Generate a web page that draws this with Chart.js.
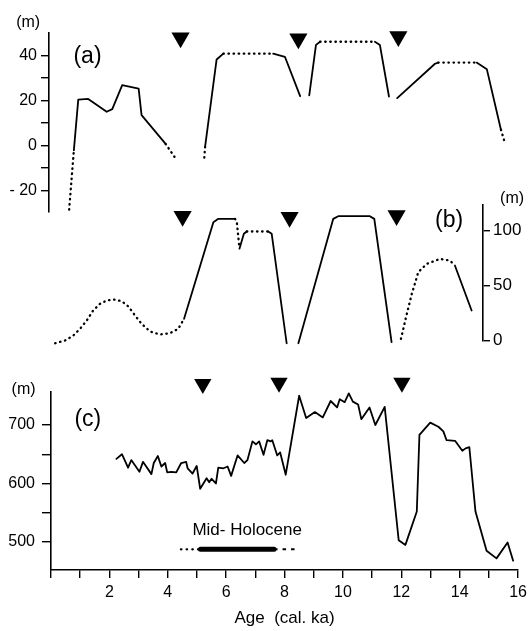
<!DOCTYPE html>
<html>
<head>
<meta charset="utf-8">
<script src="https://cdn.jsdelivr.net/npm/chart.js@4.4.1/dist/chart.umd.min.js"></script>
<style>
  html, body { margin: 0; padding: 0; background: #fff; }
  #wrap { position: relative; width: 532px; height: 631px; }
  #wrap canvas { position: absolute; left: 0; }
</style>
</head>
<body>
<div id="wrap">
  <canvas id="chartA" width="532" height="225" style="top:0px"></canvas>
  <canvas id="chartB" width="532" height="170" style="top:190px"></canvas>
  <canvas id="chartC" width="532" height="256" style="top:375px"></canvas>
</div>
<script>
// (a) level in m, null = gap; aDots = 1 where the segment from that point is dotted
const aAge   = [0.62, 0.78, 0.93, 1.27, 1.90, 2.09, 2.43, 2.99, 3.09, 3.91, 4.25, 4.7,
                5.23, 5.26, 5.65, 5.88, 7.58, 7.98, 8.50, 8.65,
                8.81, 9.04, 9.18, 11.05, 11.22, 11.53, 11.67,
                11.81, 13.10, 13.21, 14.52, 14.87, 15.35, 15.46];
const aLevel = [-28.6, -2.2, 20.4, 20.7, 15.0, 16.2, 26.9, 25.3, 13.5, 0.7, -5.8, null,
                -5.4, -0.3, 38.3, 40.9, 40.9, 39.5, 22.0, null,
                22.3, 44.8, 46.2, 46.2, 44.8, 21.8, null,
                21.1, 36.4, 36.9, 36.9, 33.9, 7.0, 2.2];
const aDots  = [1, 0, 0, 0, 0, 0, 0, 0, 0, 1, 0, 0,
                1, 0, 0, 1, 0, 0, 0, 0,
                0, 0, 1, 0, 0, 0, 0,
                0, 0, 1, 0, 0, 1, 0];
const aMarkAge   = [4.42, 8.44, 11.85];
const aMarkLevel = [48, 47.5, 48.5];

// (b)
const bAge   = [0.14, 0.48, 0.76, 0.99, 1.22, 1.44, 1.67, 1.90, 2.13, 2.41, 2.64, 2.87, 3.09, 3.38,
                3.72, 4.06, 4.34, 4.54, 5.54, 5.71, 6.28, 6.34, 6.43, 6.58, 6.68, 7.41, 7.53, 8.04, 8.24,
                8.44, 9.63, 9.80, 10.88, 11.03, 11.62, 11.78,
                11.94, 12.02, 12.14, 12.31, 12.53, 12.82, 13.27, 13.61, 13.78, 14.35];
const bLevel = [-2.5, 0, 4.5, 10.6, 18.2, 27.3, 33.3, 36.4, 37.3, 35.8, 30.9, 22.7, 15.2, 8.2,
                5.5, 6.7, 10.6, 19.7, 107.6, 110.6, 110.6, 107.6, 83.5, 97.0, 99.1, 99.1, 97.0, -2.5, null,
                -2.5, 110.6, 113, 113, 110.6, -1.5, null,
                1.5, 10.6, 24.2, 42.4, 62.1, 69.7, 74.2, 72.7, 68.2, 27.3];
const bDots  = [1, 1, 1, 1, 1, 1, 1, 1, 1, 1, 1, 1, 1, 1,
                1, 1, 1, 0, 0, 0, 1, 1, 0, 0, 1, 0, 0, 0, 0,
                0, 0, 0, 0, 0, 0, 0,
                1, 1, 1, 1, 1, 1, 1, 1, 0, 0];
const bMarkAge   = [4.49, 8.14, 11.79];
const bMarkLevel = [113, 112, 113.6];

// (c)
const cAge   = [2.24, 2.43, 2.64, 2.75, 3.03, 3.15, 3.44, 3.52, 3.66, 3.78, 3.91, 3.98, 4.12, 4.29,
                4.46, 4.63, 4.68, 4.85, 4.99, 5.11, 5.33, 5.42, 5.50, 5.65, 5.73, 5.91, 6.05, 6.17,
                6.39, 6.62, 6.73, 6.90, 7.02, 7.13, 7.28, 7.41, 7.53, 7.58, 7.75, 7.85, 8.04, 8.50,
                8.74, 9.04, 9.31, 9.58, 9.80, 9.89, 10.06, 10.20, 10.34, 10.52, 10.63, 10.91, 11.11,
                11.43, 11.91, 12.14, 12.53, 12.62, 12.99, 13.27, 13.44, 13.55, 13.84, 14.09, 14.20,
                14.33, 14.54, 14.92, 15.26, 15.64, 15.83];
const cLevel = [642, 650, 627, 640, 620, 637, 616, 635, 647, 629, 635, 619, 620, 619,
                635, 637, 626, 617, 630, 591, 609, 602, 608, 600, 627, 626, 629, 613,
                648, 635, 640, 672, 667, 672, 649, 674, 672, 674, 648, 653, 615, 750,
                712, 722, 713, 741, 730, 744, 739, 754, 740, 735, 710, 730, 700,
                731, 503, 495, 552, 683, 704, 697, 689, 674, 673, 656, 660,
                662, 552, 485, 472, 499, 468];
const cMarkAge   = [5.20, 7.81, 12.02];
const cMarkLevel = [770, 772, 772];
const midAge   = [4.45, 5.12, 7.64, 8.5];
const midLevel = 487.5;

const xTicks  = [0, 1, 2, 3, 4, 5, 6, 7, 8, 9, 10, 11, 12, 13, 14, 15, 16];
const aTicks  = [-20, -10, 0, 10, 20, 30, 40];
const bTicks  = [0, 50, 100];
const cTicks  = [500, 550, 600, 650, 700];

const FONT = '"Liberation Sans", Arial, Helvetica, sans-serif';
const DOT = [0.5, 4.6];
const LW = 1.8;
Chart.defaults.font.family = FONT;
Chart.defaults.color = '#000';

function pts(xs, ys) {
  return xs.map((x, i) => ({ x: x, y: ys[i] }));
}

function curve(xs, ys, dots) {
  return {
    data: pts(xs, ys),
    borderColor: '#000',
    borderWidth: LW,
    pointRadius: 0,
    spanGaps: false,
    borderCapStyle: 'round',
    borderJoinStyle: 'round',
    clip: false,
    segment: {
      borderDash: ctx => dots[ctx.p0DataIndex] ? DOT : [],
      borderWidth: ctx => dots[ctx.p0DataIndex] ? 2.3 : LW
    }
  };
}

function marks(xs, ys, r) {
  return {
    data: pts(xs, ys),
    showLine: false,
    pointStyle: 'triangle',
    pointRotation: 180,
    pointRadius: r,
    pointBackgroundColor: '#000',
    pointBorderWidth: 0,
    clip: false
  };
}

function texts(items) {
  return {
    id: 'panelText',
    afterDatasetsDraw(chart) {
      const ctx = chart.ctx, x = chart.scales.x, y = chart.scales.y;
      ctx.save();
      ctx.fillStyle = '#000';
      ctx.textAlign = 'center';
      ctx.textBaseline = 'middle';
      items.forEach(t => {
        ctx.font = t.size + 'px ' + FONT;
        ctx.fillText(t.text, x.getPixelForValue(t.x), y.getPixelForValue(t.y));
      });
      ctx.restore();
    }
  };
}

function yAxis(min, max, ticks, opts) {
  return {
    type: 'linear',
    min: min,
    max: max,
    position: opts.position || 'left',
    afterBuildTicks: s => { s.ticks = ticks.map(v => ({ value: v })); },
    afterFit: s => { s.width = opts.width; },
    border: { display: true, color: '#000', width: 1.6 },
    grid: { drawOnChartArea: false, drawTicks: true, tickLength: opts.tick, color: '#000', lineWidth: 1.4 },
    ticks: {
      color: '#000',
      font: { size: opts.size },
      padding: opts.pad,
      callback: opts.label
    }
  };
}

const base = {
  responsive: false,
  animation: false,
  events: [],
  plugins: { legend: { display: false }, tooltip: { enabled: false } }
};

// panel (a)
new Chart(document.getElementById('chartA'), {
  type: 'line',
  data: { datasets: [curve(aAge, aLevel, aDots), marks(aMarkAge, aMarkLevel, 10.5)] },
  options: Object.assign({}, base, {
    layout: { padding: { top: 33, bottom: 10, left: 0, right: 12 } },
    scales: {
      x: { type: 'linear', min: -0.068, max: 16, display: false },
      y: yAxis(-29.4, 50.1, aTicks, {
        width: 49, tick: 8, pad: 4, size: 16,
        label: v => (v % 20 !== 0) ? '' : (v < 0 ? '- ' + (-v) : String(v))
      })
    }
  }),
  plugins: [texts([
    { text: '(m)', x: -0.78, y: 54.9, size: 16 },
    { text: '(a)', x: 1.245, y: 39.6, size: 23 }
  ])]
});

// panel (b)
new Chart(document.getElementById('chartB'), {
  type: 'line',
  data: { datasets: [curve(bAge, bLevel, bDots), marks(bMarkAge, bMarkLevel, 10.5)] },
  options: Object.assign({}, base, {
    layout: { padding: { top: 15, bottom: 19.5, left: 51, right: 0 } },
    scales: {
      x: { type: 'linear', min: 0, max: 14.739, display: false },
      y: yAxis(0, 123.2, bTicks, {
        position: 'right', width: 49, tick: 7, pad: 3, size: 17,
        label: v => String(v)
      })
    }
  }),
  plugins: [texts([
    { text: '(m)', x: 15.73, y: 129, size: 16 },
    { text: '(b)', x: 13.58, y: 108.6, size: 23 }
  ])]
});

// panel (c)
new Chart(document.getElementById('chartC'), {
  type: 'line',
  data: {
    datasets: [
      curve(cAge, cLevel, []),
      marks(cMarkAge, cMarkLevel, 10),
      {
        data: [{ x: midAge[0], y: midLevel }, { x: midAge[1], y: midLevel }],
        borderColor: '#000', borderWidth: 2.3, borderDash: [0.5, 5.2], borderCapStyle: 'round', pointRadius: 0
      },
      {
        data: [{ x: midAge[1], y: midLevel }, { x: midAge[2], y: midLevel }],
        borderColor: '#000', borderWidth: 5, borderCapStyle: 'round', pointRadius: 0
      },
      {
        data: [{ x: midAge[2], y: midLevel }, { x: midAge[3], y: midLevel }],
        borderColor: '#000', borderWidth: 1.9, borderDash: [3.5, 5], pointRadius: 0
      }
    ]
  },
  options: Object.assign({}, base, {
    layout: { padding: { top: 17, bottom: 0, left: 0, right: 12 } },
    scales: {
      x: {
        type: 'linear',
        min: 0,
        max: 16,
        afterBuildTicks: s => { s.ticks = xTicks.map(v => ({ value: v })); },
        afterFit: s => { s.height = 61; },
        border: { display: true, color: '#000', width: 1.6 },
        grid: { drawOnChartArea: false, drawTicks: true, tickLength: 8, color: '#000', lineWidth: 1.4 },
        ticks: {
          color: '#000',
          font: { size: 16 },
          padding: 5,
          maxRotation: 0,
          autoSkip: false,
          callback: v => (v > 0 && v % 2 === 0) ? String(v) : ''
        },
        title: {
          display: true,
          text: 'Age  (cal. ka)',
          color: '#000',
          font: { size: 17 },
          padding: { top: 0, bottom: 2 }
        }
      },
      y: yAxis(452.1, 756.4, cTicks, {
        width: 51, tick: 9, pad: 7, size: 16,
        label: v => (v % 100 === 0) ? String(v) : ''
      })
    }
  }),
  plugins: [texts([
    { text: '(m)', x: -0.94, y: 760.7, size: 16 },
    { text: '(c)', x: 1.26, y: 709.4, size: 23 },
    { text: 'Mid- Holocene', x: 6.72, y: 520.5, size: 17 }
  ])]
});
</script>
</body>
</html>
